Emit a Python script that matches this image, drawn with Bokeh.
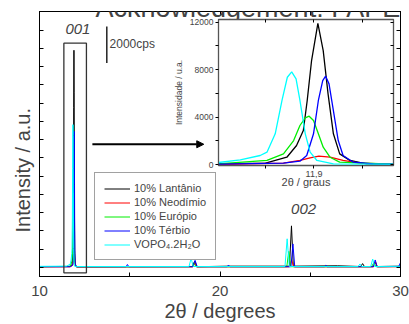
from bokeh.plotting import figure
from bokeh.models import (Legend, LegendItem, Label, Arrow, NormalHead, FixedTicker,
                          LinearAxis, CustomJSTickFormatter, Range1d, Title)
from bokeh.embed import file_html
from bokeh.resources import INLINE

FONT = "Liberation Sans"

# ---------------- data (2theta in degrees, intensity in cps) ----------------
series_names = ["10% Lantânio", "10% Neodímio", "10% Európio", "10% Térbio", "VOPO₄.2H₂O"]
series_colors = ["#000000", "#ff0000", "#00ee00", "#0000ff", "#00ffff"]

la_x = [10.0, 11.5, 11.70, 11.80, 11.844, 11.864, 11.878, 11.886, 11.895, 11.908, 11.919,
        11.929, 11.940, 11.953, 11.974, 12.008, 12.06, 12.5, 15.0, 18.45, 18.6, 18.72,
        20.5, 23.85, 23.96, 24.06, 26.5, 27.8, 27.9, 28.0, 28.5, 28.6, 28.7, 30.0]
la_y = [30, 40, 50, 110, 615, 1600, 2870, 5400, 8770, 11900, 9600,
        5960, 2590, 900, 340, 60, 20, 20, 30, 40, 330, 30,
        60, 60, 2270, 60, 80, 40, 200, 40, 40, 280, 40, 60]

nd_x = [10.0, 11.70, 11.837, 11.871, 11.892, 11.910, 11.933, 11.960, 11.994, 12.06,
        18.5, 18.6, 18.7, 23.85, 23.97, 24.08, 28.5, 28.62, 28.72, 30.0]
nd_y = [20, 20, 110, 340, 560, 700, 615, 340, 110, 20,
        20, 250, 20, 20, 400, 20, 20, 300, 20, 30]

eu_x = [10.0, 11.70, 11.803, 11.837, 11.858, 11.871, 11.882, 11.890, 11.899, 11.909,
        11.919, 11.933, 11.953, 12.06, 18.45, 18.56, 18.67, 23.7, 23.81, 23.92,
        28.4, 28.52, 28.64, 30.0]
eu_y = [30, 50, 340, 900, 2020, 3290, 3940, 4075, 3710, 2590,
        1460, 615, 195, 30, 30, 220, 30, 30, 870, 30,
        30, 250, 30, 40]

tb_x = [10.0, 11.70, 11.837, 11.871, 11.885, 11.899, 11.909, 11.918, 11.924, 11.931,
        11.940, 11.950, 11.960, 11.981, 12.022, 12.06, 14.8, 14.87, 14.95, 18.5,
        18.62, 18.74, 20.4, 20.47, 20.55, 23.93, 24.04, 24.14, 25.8, 25.86,
        25.95, 28.5, 28.6, 28.7, 29.9, 30.0]
tb_y = [30, 30, 110, 280, 760, 2590, 5400, 7080, 7450, 6800,
        4550, 2020, 760, 195, 60, 30, 30, 150, 30, 30,
        380, 30, 30, 120, 30, 30, 1280, 30, 30, 100,
        30, 30, 400, 30, 40, 250]

vo_x = [10.0, 11.50, 11.703, 11.748, 11.789, 11.803, 11.820, 11.834, 11.845, 11.854,
        11.863, 11.871, 11.882, 11.892, 11.906, 11.94, 12.06, 18.28, 18.40, 18.52,
        23.6, 23.72, 23.84, 27.65, 27.75, 27.85, 28.35, 28.46, 28.57, 30.0]
vo_y = [50, 60, 170, 390, 760, 1040, 2590, 5400, 7360, 7820,
        7230, 5400, 2590, 1040, 340, 60, 40, 40, 480, 40,
        40, 1560, 40, 40, 180, 40, 40, 450, 40, 50]

series_x = [la_x, nd_x, eu_x, tb_x, vo_x]
series_y = [la_y, nd_y, eu_y, tb_y, vo_y]

main_x_major = [10, 20, 30]
main_x_minor = [15, 25]
main_y_ticks = list(range(0, 14001, 1000))
ins_x_major = [11.9]
ins_x_minor = [11.8, 12.0]
ins_y_major = [0, 4000, 8000, 12000]
ins_y_minor = [2000, 6000, 10000]

# annotation geometry (data units of the main plot)
box_x = (11.35, 12.6)
box_y = (-305, 12290)
arrow_x = (12.93, 19.1)
arrow_y = 6745
bar_x = 13.73
bar_y = (11200, 13200)

# ---------------- main plot ----------------
p = figure(width=409, height=324, x_range=Range1d(10, 30), y_range=Range1d(-507, 14025),
           output_backend="svg", toolbar_location=None,
           min_border_left=39, min_border_right=9, min_border_top=11, min_border_bottom=47)
p.styles = {"position": "absolute", "left": "0px", "top": "0px"}
p.grid.visible = False
p.outline_line_color = "black"
p.outline_line_width = 1
p.background_fill_color = "white"

p.xaxis.ticker = FixedTicker(ticks=main_x_major, minor_ticks=main_x_minor)
p.xaxis.major_tick_in = 5
p.xaxis.major_tick_out = 0
p.xaxis.minor_tick_in = 4
p.xaxis.minor_tick_out = 0
p.xaxis.major_label_text_font = FONT
p.xaxis.major_label_text_font_size = "15px"
p.xaxis.major_label_text_line_height = 1.0
p.xaxis.major_label_standoff = 9
p.xaxis.axis_label = "2θ / degrees"
p.xaxis.axis_label_text_font = FONT
p.xaxis.axis_label_text_font_size = "20px"
p.xaxis.axis_label_text_font_style = "normal"
p.xaxis.axis_label_text_line_height = 1.0
p.xaxis.axis_label_standoff = 1
p.xaxis.axis_line_color = "black"

p.yaxis.ticker = FixedTicker(ticks=[], minor_ticks=main_y_ticks)
p.yaxis.major_tick_in = 0
p.yaxis.major_tick_out = 0
p.yaxis.minor_tick_in = 4
p.yaxis.minor_tick_out = 0
p.yaxis.major_label_standoff = 0
p.yaxis.axis_line_color = "black"

p.add_layout(LinearAxis(ticker=FixedTicker(ticks=[], minor_ticks=main_y_ticks),
                        major_tick_in=0, major_tick_out=0, minor_tick_in=4, minor_tick_out=0,
                        major_label_standoff=0), "right")
p.add_layout(LinearAxis(ticker=FixedTicker(ticks=[], minor_ticks=main_x_major + main_x_minor),
                        major_tick_in=0, major_tick_out=0, minor_tick_in=4, minor_tick_out=0,
                        major_label_standoff=0), "above")

p.add_layout(Title(text="Intensity / a.u.", align="left", offset=44, standoff=12,
                   text_font=FONT, text_font_size="20px", text_font_style="normal"), "left")

renderers = []
for xs, ys, c in zip(series_x, series_y, series_colors):
    renderers.append(p.line(xs, ys, line_color=c, line_width=1))

p.quad(left=[box_x[0]], right=[box_x[1]], bottom=[box_y[0]], top=[box_y[1]],
       fill_alpha=0, line_color="#333333", line_width=1.3)
p.add_layout(Arrow(end=NormalHead(size=7, fill_color="black", line_color="black"),
                   x_start=arrow_x[0], y_start=arrow_y, x_end=arrow_x[1], y_end=arrow_y,
                   line_width=2, line_color="black"))
p.segment(x0=[bar_x], y0=[bar_y[0]], x1=[bar_x], y1=[bar_y[1]], line_color="black", line_width=1.3)

p.add_layout(Label(x=12.13, y=13070, text="001", text_align="center", text_baseline="middle",
                   text_font=FONT, text_font_size="15px", text_font_style="italic"))
p.add_layout(Label(x=24.63, y=3200, text="002", text_align="center", text_baseline="middle",
                   text_font=FONT, text_font_size="15px", text_font_style="italic"))
p.add_layout(Label(x=13.88, y=12250, text="2000cps", text_align="left", text_baseline="middle",
                   text_font=FONT, text_font_size="12px"))
p.add_layout(Label(x=56, y=269, x_units="screen", y_units="screen",
                   text="Acknowledgement: FAPESP", text_align="left", text_baseline="alphabetic",
                   text_font=FONT, text_font_size="27px"))

legend = Legend(items=[LegendItem(label=n, renderers=[r]) for n, r in zip(series_names, renderers)],
                location=(55, 16), label_text_font=FONT, label_text_font_size="11px",
                glyph_width=26, glyph_height=11, label_height=11, spacing=2, padding=9,
                label_standoff=4, border_line_color="#444444", border_line_width=1.3,
                background_fill_color="white", background_fill_alpha=1, margin=0)
p.add_layout(legend)

# ---------------- inset ----------------
ins = figure(width=226, height=180, x_range=Range1d(11.703, 12.064), y_range=Range1d(-84, 12230),
             output_backend="svg", toolbar_location=None,
             min_border_left=48, min_border_right=3, min_border_top=4, min_border_bottom=30)
ins.styles = {"position": "absolute", "left": "170px", "top": "15px"}
ins.grid.visible = False
ins.outline_line_color = "#555555"
ins.outline_line_width = 1.3
ins.background_fill_color = "white"
ins.border_fill_alpha = 0

ins.xaxis.ticker = FixedTicker(ticks=ins_x_major, minor_ticks=ins_x_minor)
ins.xaxis.formatter = CustomJSTickFormatter(code="return tick.toFixed(1).replace('.', ',');")
ins.xaxis.major_tick_out = 3
ins.xaxis.major_tick_in = 0
ins.xaxis.minor_tick_out = 3
ins.xaxis.minor_tick_in = 0
ins.xaxis.major_label_text_font = FONT
ins.xaxis.major_label_text_font_size = "9px"
ins.xaxis.major_label_text_line_height = 1.0
ins.xaxis.major_label_standoff = 2
ins.xaxis.axis_label = "2θ / graus"
ins.xaxis.axis_label_text_font = FONT
ins.xaxis.axis_label_text_font_size = "11px"
ins.xaxis.axis_label_text_font_style = "normal"
ins.xaxis.axis_label_text_line_height = 1.0
ins.xaxis.axis_label_standoff = -4
ins.xaxis.axis_line_color = "#555555"

ins.yaxis.ticker = FixedTicker(ticks=ins_y_major, minor_ticks=ins_y_minor)
ins.yaxis.major_tick_out = 3
ins.yaxis.major_tick_in = 0
ins.yaxis.minor_tick_out = 3
ins.yaxis.minor_tick_in = 0
ins.yaxis.major_label_text_font = FONT
ins.yaxis.major_label_text_font_size = "8.5px"
ins.yaxis.major_label_standoff = 2
ins.yaxis.axis_label = "Intensidade / u.a."
ins.yaxis.axis_label_text_font = FONT
ins.yaxis.axis_label_text_font_size = "8.5px"
ins.yaxis.axis_label_text_font_style = "normal"
ins.yaxis.axis_label_standoff = 3
ins.yaxis.axis_line_color = "#555555"

ins.add_layout(LinearAxis(ticker=FixedTicker(ticks=[], minor_ticks=ins_y_major + ins_y_minor),
                          major_tick_in=0, major_tick_out=0, minor_tick_in=3, minor_tick_out=0,
                          major_label_standoff=0, axis_line_color="#555555"), "right")
ins.add_layout(LinearAxis(ticker=FixedTicker(ticks=[], minor_ticks=ins_x_major + ins_x_minor),
                          major_tick_in=0, major_tick_out=0, minor_tick_in=3, minor_tick_out=0,
                          major_label_standoff=0, axis_line_color="#555555"), "above")

for xs, ys, c in zip(series_x, series_y, series_colors):
    ins.line(xs, ys, line_color=c, line_width=1.3)

open("out.html", "w").write(file_html([p, ins], INLINE))
